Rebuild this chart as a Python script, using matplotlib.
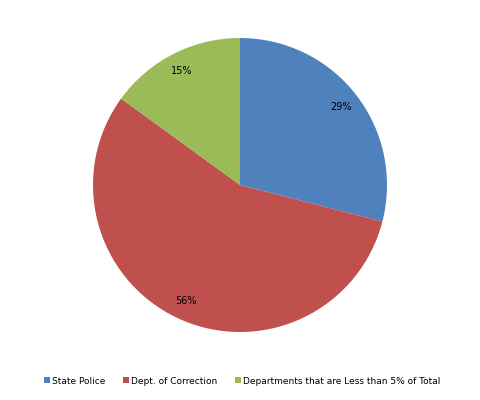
import matplotlib
matplotlib.use("Agg")
import matplotlib.pyplot as plt
from matplotlib.patches import Patch

categories = ["State Police", "Dept. of Correction", "Departments that are Less than 5% of Total"]
values = [29, 56, 15]
colors = ["#4F81BD", "#C0504D", "#9BBB59"]

fig = plt.figure(figsize=(4.8, 4.0), dpi=100)
ax = fig.add_axes([0, 0, 1, 1])

wedges, texts, autotexts = ax.pie(
    values, colors=colors, startangle=90, counterclock=False,
    center=(240, 215), radius=147, autopct="%d%%", pctdistance=0.87,
    textprops=dict(fontsize=7, family="DejaVu Sans", color="black"),
    frame=True)
ax.set_xlim(0, 480)
ax.set_ylim(0, 400)
ax.set_aspect("equal")
ax.axis("off")

handles = [Patch(facecolor=c, edgecolor="none") for c in colors]
fig.legend(handles, categories, loc="center", bbox_to_anchor=(0.505, 1 - 381 / 400),
           ncol=3, frameon=False, fontsize=6.5, handlelength=0.6, handleheight=0.6,
           handletextpad=0.25, columnspacing=2.0)

fig.savefig("out.png", dpi=100)
